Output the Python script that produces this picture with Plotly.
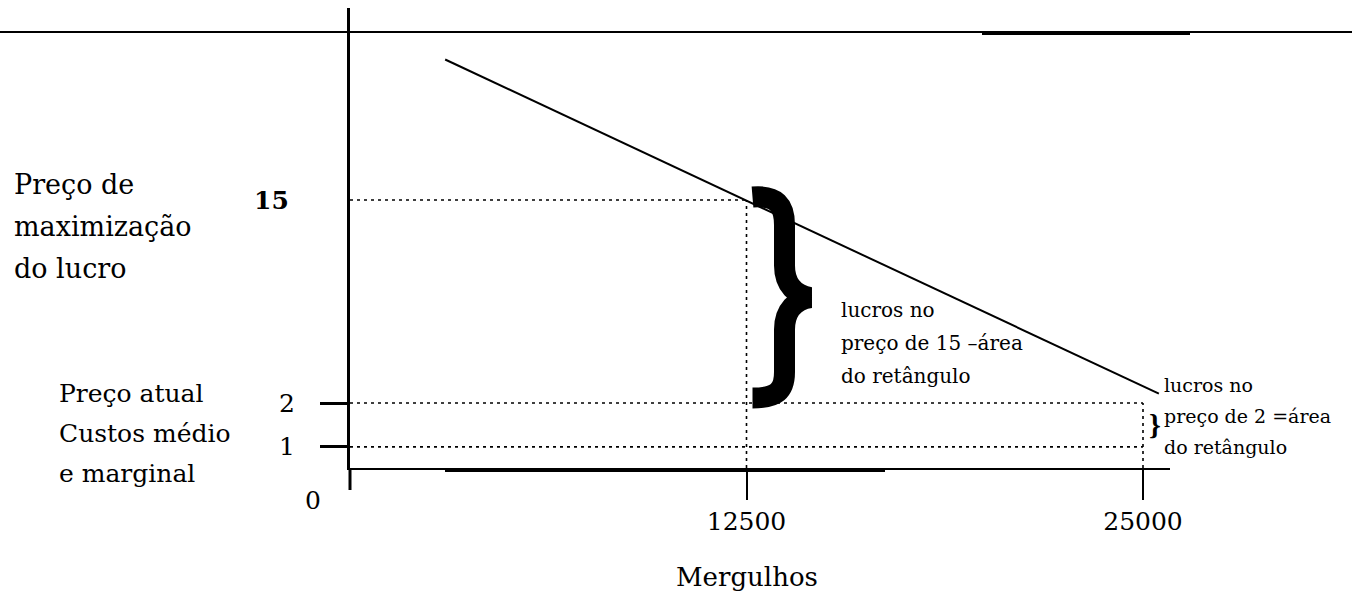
import numpy as np
import plotly.graph_objects as go

# ---------------- data ----------------
quantity_ticks = [12500, 25000]
quantity_labels = ["12500", "25000"]
price_ticks = [15, 2, 1]
price_labels = ["15", "2", "1"]

demand_q = [3000, 25500]          # demand line end points (Mergulhos)
demand_p = [24, 2.6]              # demand line end points (price)

profit_max_q = 12500
profit_max_p = 15
current_q = 25000
current_p = 2
cost_p = 1

# ---------------- schematic price scale (figure not drawn to scale) ----------------
PRICE_KNOTS = [0, 1, 2]
AXIS_KNOTS = [0, 1.35, 4.16]


def y_axis(p):
    p = np.asarray(p, dtype=float)
    return np.where(p <= PRICE_KNOTS[-1],
                    np.interp(p, PRICE_KNOTS, AXIS_KNOTS),
                    AXIS_KNOTS[-1] + (p - PRICE_KNOTS[-1]))


# ---------------- layout geometry ----------------
W, H = 1352, 595
L, R, T, B = 350, 1170, 8, 468
PW, PH = R - L, B - T
UNIT_PX = 15.615                 # pixels per schematic y unit
Q_PX = 793.0 / 25000             # pixels per unit of quantity
X_MAX = PW / Q_PX
Y_MAX = PH / UNIT_PX

FONT = "DejaVu Serif"


def px(x):
    return (x - L) / PW


def py(y):
    return (B - y) / PH


fig = go.Figure()

fig.add_trace(go.Scatter(
    x=demand_q, y=y_axis(demand_p), mode="lines",
    line=dict(color="black", width=2), showlegend=False, hoverinfo="skip"))

dot = dict(color="black", width=1.6, dash="3px,4px")
guides = [
    (0, profit_max_q, profit_max_p, profit_max_p),
    (profit_max_q, profit_max_q, 0, profit_max_p),
    (0, current_q, current_p, current_p),
    (0, current_q, cost_p, cost_p),
    (current_q, current_q, 0, current_p),
]
for x0, x1, p0, p1 in guides:
    fig.add_shape(type="line", xref="x", yref="y", x0=x0, x1=x1,
                  y0=float(y_axis(p0)), y1=float(y_axis(p1)), line=dot)

# ---------------- big curly brace (profit at price 15) ----------------
u_top = float(y_axis(profit_max_p))
u_bot = float(y_axis(current_p))
u_mid = (u_top + u_bot) / 2


def pt(dx, u, dy):
    """point dx pixels right of the 12500 guide, dy pixels below schematic level u"""
    return "%.3f,%.4f" % (profit_max_q + dx / Q_PX, u - dy / UNIT_PX)


brace = ("M " + pt(6, u_top, -3) +
         " C " + pt(30, u_top, -5) + " " + pt(38, u_top, 5) + " " + pt(38, u_top, 25) +
         " L " + pt(38, u_mid, -36) +
         " C " + pt(38, u_mid, -16) + " " + pt(50, u_mid, -6) + " " + pt(64, u_mid, -4) +
         " C " + pt(50, u_mid, -2) + " " + pt(38, u_mid, 8) + " " + pt(38, u_mid, 28) +
         " L " + pt(38, u_bot, -31) +
         " C " + pt(38, u_bot, -12) + " " + pt(30, u_bot, -5) + " " + pt(6, u_bot, -5))
fig.add_shape(type="path", xref="x", yref="y", path=brace,
              line=dict(color="black", width=21))

# frame / scan lines
fig.add_shape(type="line", xref="paper", yref="paper", x0=px(0), x1=px(W),
              y0=py(32), y1=py(32), line=dict(color="black", width=2))
fig.add_shape(type="line", xref="paper", yref="paper", x0=px(982), x1=px(1190),
              y0=py(33), y1=py(33), line=dict(color="black", width=4))
fig.add_shape(type="line", xref="paper", yref="paper", x0=px(445), x1=px(885),
              y0=py(470), y1=py(470), line=dict(color="black", width=4))
fig.add_shape(type="line", xref="paper", yref="paper", x0=0, x1=0,
              y0=0, y1=py(490), line=dict(color="black", width=3))

ann = []


def text_lines(lines, x_left, y_first, pitch, size, bold=False):
    for i, t in enumerate(lines):
        ann.append(dict(text=("<b>%s</b>" % t) if bold else t, xref="paper", yref="paper",
                        x=px(x_left), y=py(y_first + i * pitch), xanchor="left",
                        yanchor="middle", showarrow=False,
                        font=dict(family=FONT, size=size, color="black")))


text_lines(["Preço de", "maximização", "do lucro"], 12, 184, 42, 27)
text_lines(["Preço atual", "Custos médio", "e marginal"], 57, 393, 40, 25)
text_lines(["lucros no", "preço de 15 –área", "do retângulo"], 839, 310, 33, 20)
text_lines(["lucros no", "preço de 2 =área", "do retângulo"], 1162, 385, 31, 19)

# price labels
for p, lab in zip(price_ticks, price_labels):
    ann.append(dict(text=("<b>%s</b>" % lab) if p == 15 else lab, xref="paper", yref="y",
                    x=px(291 if p == 15 else 297), y=float(y_axis(p)),
                    xanchor="right", yanchor="middle", showarrow=False,
                    font=dict(family=FONT, size=25, color="black")))
ann.append(dict(text="0", xref="paper", yref="paper", x=px(313), y=py(500),
                xanchor="center", yanchor="middle", showarrow=False,
                font=dict(family=FONT, size=25, color="black")))

# axis title
ann.append(dict(text="Mergulhos", xref="x", yref="paper", x=profit_max_q, y=py(577),
                xanchor="center", yanchor="middle", showarrow=False,
                font=dict(family=FONT, size=26, color="black")))

# small brace (profit at price 2)
ann.append(dict(text="<b>}</b>", xref="x", yref="y", x=current_q,
                y=float((y_axis(cost_p) + y_axis(current_p)) / 2),
                xanchor="left", yanchor="middle", showarrow=False, xshift=4,
                font=dict(family="Liberation Serif", size=30, color="black")))

fig.update_layout(
    width=W, height=H, autosize=False,
    margin=dict(l=L, r=W - R, t=T, b=H - B, pad=0),
    paper_bgcolor="white", plot_bgcolor="white",
    showlegend=False,
    annotations=ann,
    xaxis=dict(range=[0, X_MAX], showgrid=False, zeroline=False, showline=True,
               linecolor="black", linewidth=2, ticks="outside", ticklen=30,
               tickwidth=2, tickcolor="black", tickvals=quantity_ticks,
               ticktext=quantity_labels, fixedrange=True,
               tickfont=dict(family=FONT, size=25, color="black")),
    yaxis=dict(range=[0, Y_MAX], showgrid=False, zeroline=False, showline=True,
               linecolor="black", linewidth=3, ticks="outside", ticklen=27,
               tickwidth=2.5, tickcolor="black",
               tickvals=[float(v) for v in y_axis([current_p, cost_p])],
               showticklabels=False, fixedrange=True),
)

fig.write_html("out.html", config={"displayModeBar": False},
               post_script="document.body.style.margin='0';document.body.style.overflow='hidden';")
